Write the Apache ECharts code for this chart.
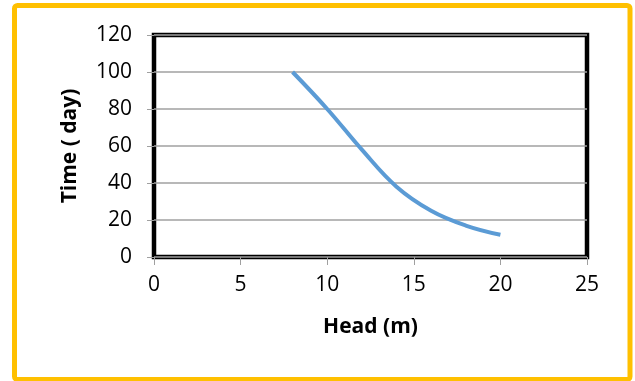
<!DOCTYPE html>
<html>
<head>
<meta charset="utf-8">
<script src="https://cdn.jsdelivr.net/npm/echarts@6/dist/echarts.min.js"></script>
<style>
html,body{margin:0;padding:0;background:#fff;}
#c{width:635px;height:381px;}
</style>
</head>
<body>
<div id="c"></div>
<script>
const head = [8, 10, 12, 14, 16, 18, 20];
const time = [100, 80, 58, 38, 25, 17, 12];
const xTicks = [0, 5, 10, 15, 20, 25];
const yTicks = [0, 20, 40, 60, 80, 100, 120];

const chart = echarts.init(document.getElementById('c'), null, {renderer: 'canvas'});
const font = '"Open Sans", "Liberation Sans", Arial, sans-serif';
chart.setOption({
  animation: false,
  backgroundColor: '#fff',
  graphic: [{
    type: 'rect',
    shape: {x: 14.5, y: 5.5, width: 615.5, height: 374, r: 3},
    style: {fill: 'none', stroke: '#FFC000', lineWidth: 5},
    z: 100
  }],
  grid: {
    left: 154, right: 48, top: 35, bottom: 124,
    show: true, borderColor: '#000', borderWidth: 4.5, backgroundColor: 'transparent'
  },
  xAxis: {
    type: 'value', min: xTicks[0], max: xTicks[xTicks.length - 1], interval: 5,
    name: 'Head (m)', nameLocation: 'middle', nameGap: 60,
    nameTextStyle: {fontFamily: font, fontSize: 21, fontWeight: 'bold', color: '#000'},
    axisLine: {show: false},
    axisTick: {show: true, length: 8, lineStyle: {color: '#A0A0A0', width: 1}},
    axisLabel: {fontFamily: font, fontSize: 21, color: '#000', margin: 18},
    splitLine: {show: false}
  },
  yAxis: {
    type: 'value', min: yTicks[0], max: yTicks[yTicks.length - 1], interval: 20,
    name: 'Time ( day)', nameLocation: 'middle', nameGap: 73,
    nameTextStyle: {fontFamily: font, fontSize: 21, fontWeight: 'bold', color: '#000'},
    axisLine: {show: false},
    axisTick: {show: true, length: 7, lineStyle: {color: '#A0A0A0', width: 1}},
    axisLabel: {fontFamily: font, fontSize: 21, color: '#000', margin: 22},
    splitLine: {show: true, lineStyle: {color: '#A0A0A0', width: 1.5}}
  },
  series: [{
    type: 'line',
    data: head.map((h, i) => [h, time[i]]),
    smooth: 0.4,
    showSymbol: false,
    lineStyle: {color: '#5B9BD5', width: 4},
    z: 3
  }]
});
</script>
</body>
</html>
